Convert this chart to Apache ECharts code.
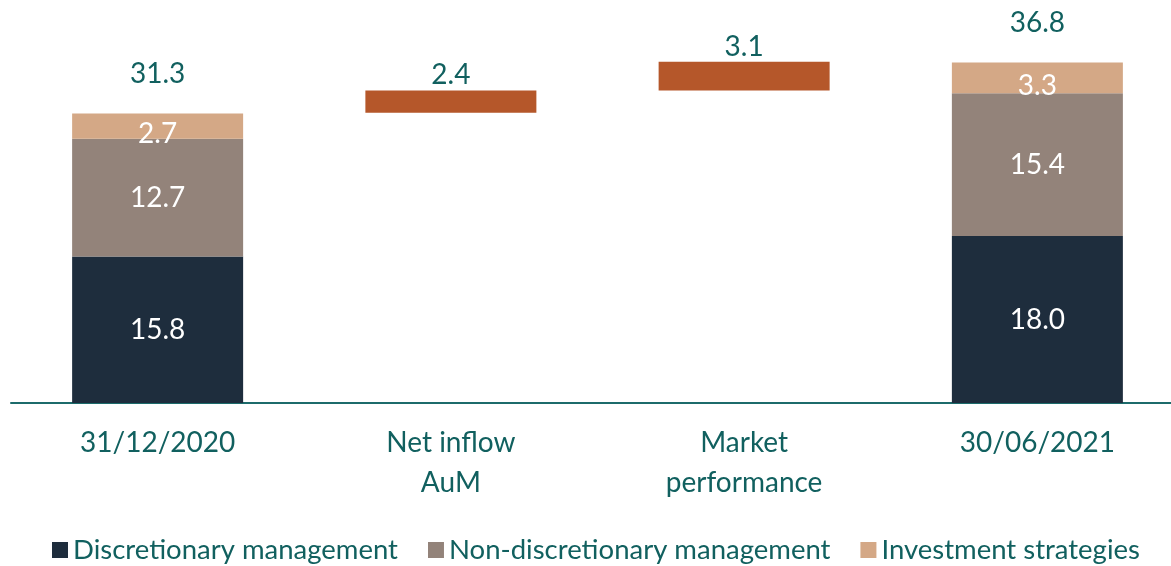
<!DOCTYPE html>
<html>
<head>
<meta charset="utf-8">
<script src="https://cdn.jsdelivr.net/npm/echarts@6/dist/echarts.min.js"></script>
<style>
  html, body { margin: 0; padding: 0; background: #fff; overflow: hidden; }
  #chart { width: 1184px; height: 566px; }
</style>
</head>
<body>
<div id="chart"></div>
<script>
const categories = ['31/12/2020', 'Net inflow\nAuM', 'Market\nperformance', '30/06/2021'];
const discretionary = [15.8, '-', '-', 18.0];
const nonDiscretionary = [12.7, '-', '-', 15.4];
const investment = [2.7, '-', '-', 3.3];
const changes = ['-', 2.4, 3.1, '-'];
const totals = [31.3, '-', '-', 36.8];
// invisible base under the floating bars
const base = [0, 31.3, 33.7, 0];

const textColor = '#11605f'; // 文字颜色
const fontFamily = 'Lato';

const chart = echarts.init(document.getElementById('chart'));

const insideLabel = {
  show: true,
  position: 'inside',
  color: '#fff',
  fontSize: 28,
  fontFamily: fontFamily,
  formatter: p => p.value.toFixed(1)
};

chart.setOption({
  animation: false,
  textStyle: { fontFamily: fontFamily },
  grid: { left: 11, right: 0, top: 32, height: 371 },
  legend: {
    data: ['Discretionary management', 'Non-discretionary management', 'Investment strategies'],
    bottom: -3,
    left: 47,
    itemWidth: 16,
    itemHeight: 16,
    itemGap: 30,
    icon: 'rect',
    textStyle: { color: textColor, fontSize: 27.5, fontFamily: fontFamily }
  },
  xAxis: {
    type: 'category',
    data: categories,
    axisLine: { show: true, lineStyle: { color: '#1c6b6b', width: 2 } },
    axisTick: { show: false },
    axisLabel: {
      color: textColor,
      fontSize: 28,
      lineHeight: 40,
      margin: 20,
      fontFamily: fontFamily
    }
  },
  yAxis: {
    type: 'value',
    min: 0,
    max: 40,
    show: false,
    splitLine: { show: false }
  },
  series: [
    {
      name: 'base',
      type: 'bar',
      stack: 'aum',
      barWidth: 171,
      itemStyle: { color: 'transparent' },
      data: base,
      silent: true
    },
    {
      name: 'Discretionary management',
      type: 'bar',
      stack: 'aum',
      itemStyle: { color: '#1e2d3d' },
      label: insideLabel,
      data: discretionary
    },
    {
      name: 'Non-discretionary management',
      type: 'bar',
      stack: 'aum',
      itemStyle: { color: '#93837a' },
      label: insideLabel,
      data: nonDiscretionary
    },
    {
      name: 'Investment strategies',
      type: 'bar',
      stack: 'aum',
      itemStyle: { color: '#d4a886' },
      label: Object.assign({}, insideLabel, { offset: [0, 8] }),
      data: investment
    },
    {
      name: 'change',
      type: 'bar',
      stack: 'aum',
      itemStyle: { color: '#b5572a' },
      label: {
        show: true,
        position: 'top',
        distance: 1,
        color: textColor,
        fontSize: 28,
        fontFamily: fontFamily,
        formatter: p => p.value.toFixed(1)
      },
      data: changes
    },
    {
      name: 'total',
      type: 'line',
      symbol: 'circle',
      symbolSize: 1,
      itemStyle: { color: 'rgba(0,0,0,0)' },
      lineStyle: { opacity: 0 },
      label: {
        show: true,
        position: 'top',
        distance: 24,
        color: textColor,
        fontSize: 28,
        fontFamily: fontFamily,
        formatter: p => p.value.toFixed(1)
      },
      data: totals
    }
  ]
});
</script>
</body>
</html>
